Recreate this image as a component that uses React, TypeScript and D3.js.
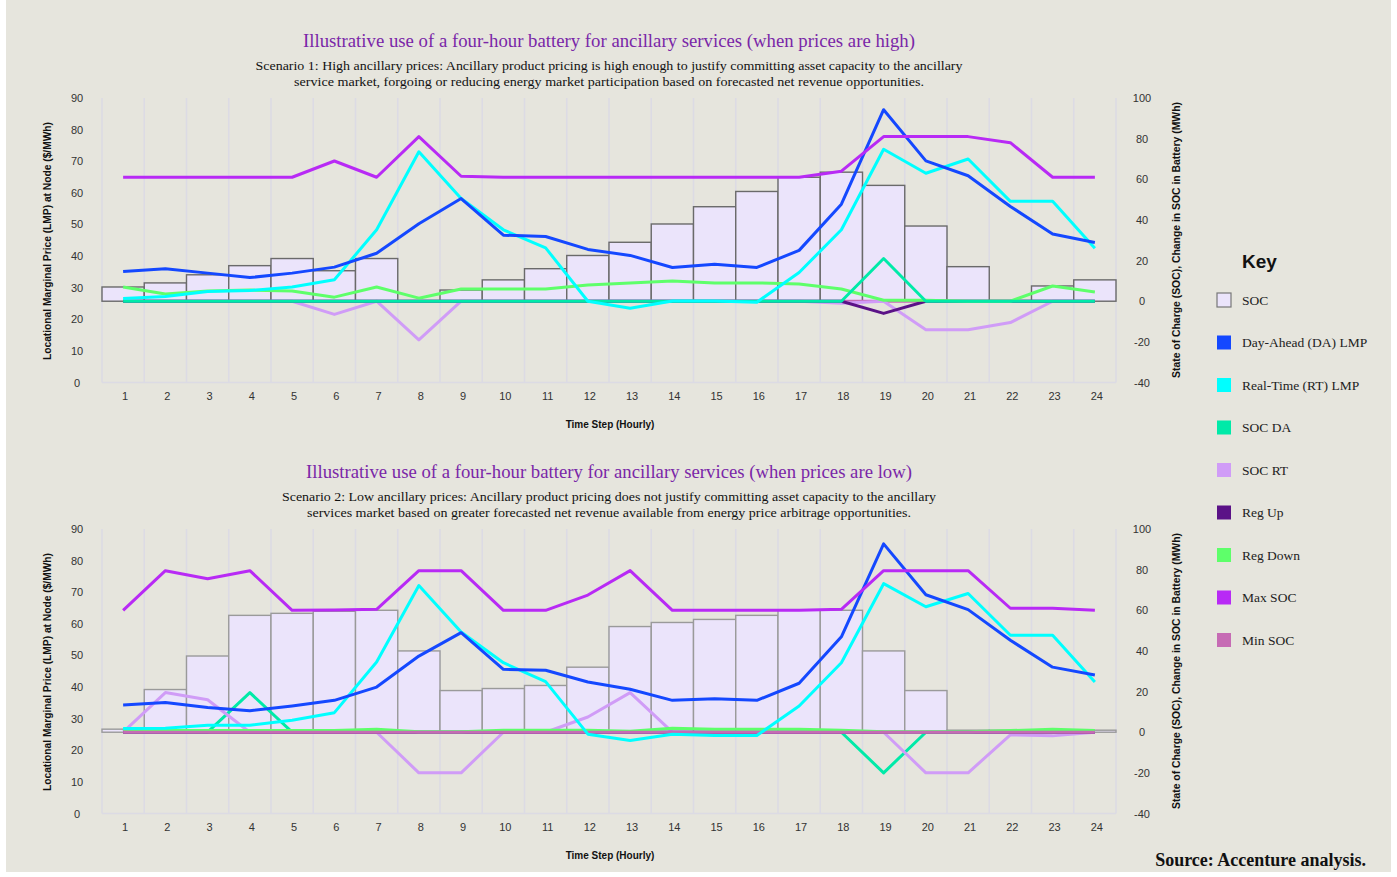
import React from "react";
import * as d3 from "d3";

const hours = d3.range(1, 25);
const lmpTicks = [0, 10, 20, 30, 40, 50, 60, 70, 80, 90];
const socTicks = [-40, -20, 0, 20, 40, 60, 80, 100];

// Scenario 1 (high ancillary prices)
const s1Soc = [7, 9, 13, 17.5, 21, 15, 21, 0, 5.5, 10.5, 16, 22.5, 29, 38, 46.5, 54, 61, 63.5, 57, 37, 17, 0, 7.5, 10.5];
const s1DA = [35.1, 36.0, 34.6, 33.2, 34.6, 36.5, 40.9, 50.2, 58.2, 46.6, 46.2, 42.1, 40.2, 36.4, 37.4, 36.4, 41.8, 56.4, 86.3, 70.1, 65.4, 55.7, 47.0, 44.3];
const s1RT = [26.6, 27.2, 28.8, 29.1, 30.2, 32.5, 48.3, 73.0, 58.2, 48.3, 42.6, 25.7, 23.5, 25.8, 25.8, 25.4, 34.8, 48.3, 73.8, 66.2, 70.7, 57.3, 57.3, 42.5];
const s1SocDA = [0, 0, 0, 0, 0, 0, 0, 0, 0, 0, 0, 0, 0, 0, 0, 0, 0, 0, 21, 0, 0, 0, 0, 0];
const s1SocRT = [0, 0, 0, 0, 0, -6.5, 0, -19, 0, 0, 0, 0, 0, 0, 0, 0, 0, -1, 0, -14, -14, -10.5, 0, 0];
const s1RegUp = [0, 0, 0, 0, 0, 0, 0, 0, 0, 0, 0, 0, 0, 0, 0, 0, 0, 0, -6, 0, 0, 0, 0, 0];
const s1RegDown = [7, 3.5, 5, 5.5, 5, 2, 7, 1.5, 6, 6, 6, 8, 9, 10, 9, 9, 8.5, 6, 0.5, 0.5, 0, 0, 7.5, 4.5];
const s1MaxSoc = [61, 61, 61, 61, 61, 69, 61, 81, 61.5, 61, 61, 61, 61, 61, 61, 61, 61, 64, 81, 81, 81, 78, 61, 61];
const s1MinSoc = [0, 0, 0, 0, 0, 0, 0, 0, 0, 0, 0, 0, 0, 0, 0, 0, 0, 0, 0, 0, 0, 0, 0, 0];

// Scenario 2 (low ancillary prices)
const s2Soc = [1.5, 21, 37.5, 57.5, 58.5, 59.5, 60, 40, 20.5, 21.5, 23, 32, 52, 54, 55.5, 57.5, 60, 60, 40, 20.5, 1, 1, 1, 1];
const s2DA = [34.3, 35.1, 33.5, 32.5, 34.0, 35.8, 40.0, 49.8, 57.2, 45.6, 45.3, 41.6, 39.3, 35.8, 36.3, 35.8, 41.2, 55.9, 85.3, 69.2, 64.5, 54.8, 46.3, 43.8];
const s2RT = [26.9, 27.0, 27.9, 27.9, 29.5, 31.9, 47.9, 72.1, 57.4, 47.7, 41.7, 25.1, 23.1, 25.1, 24.7, 24.7, 34.0, 47.7, 72.7, 65.4, 69.6, 56.4, 56.4, 41.6];
const s2SocDA = [0, 0, 0, 19.5, 0, 0, 0, 0, 0, 0, 0, 0, 0, 0, 0, 0, 0, 0, -20, 0, 0, 0, 0, 0];
const s2SocRT = [0, 19.5, 16, 0, 0, 0, 0, -20, -20, 0, 0, 7.5, 19.5, 0, 0, 0, 0, 0, 0, -20, -20, -1.3, -1.8, 0];
const s2RegUp = [0, 0, 0, 0, 0, 0, 0, 0, 0, 0, 0, 0, 0, 0, 0, 0, 0, 0, 0, 0, 0, 0, 0, 0];
const s2RegDown = [1.5, 0.8, 0.8, 0.8, 0.8, 0.8, 1.5, 0.2, 0.2, 1, 1, 1, 0.5, 2, 1.5, 1.5, 1.5, 1, 0.2, 0.2, 0.2, 0.8, 1.5, 0.8];
const s2MaxSoc = [60, 79.5, 75.5, 79.5, 60, 60.2, 60.5, 79.5, 79.5, 60, 60, 67.5, 79.5, 60, 60, 60, 60, 60.5, 79.5, 79.5, 79.5, 61, 61, 60];
const s2MinSoc = [0, 0, 0, 0, 0, 0, 0, 0, 0, 0, 0, 0, 0, 0, 0, 0, 0, 0, 0, 0, 0, 0, 0, 0];

const legendItems = [
  { label: "SOC", color: "#ebe4fb", stroke: "#777" },
  { label: "Day-Ahead (DA) LMP", color: "#1448ff" },
  { label: "Real-Time (RT) LMP", color: "#00ffff" },
  { label: "SOC DA", color: "#00eaa8" },
  { label: "SOC RT", color: "#d09cf7" },
  { label: "Reg Up", color: "#5b1287" },
  { label: "Reg Down", color: "#5eff6a" },
  { label: "Max SOC", color: "#b82af5" },
  { label: "Min SOC", color: "#c66bb4" },
];
const C = {
  da: "#1448ff", rt: "#00ffff", socDA: "#00eaa8", socRT: "#d09cf7",
  regUp: "#5b1287", regDown: "#5eff6a", maxSoc: "#b82af5", minSoc: "#c66bb4",
};

const SANS = "'Liberation Sans', Arial, sans-serif";
const SERIF = "'Liberation Serif', 'Times New Roman', serif";

type Series = { values: number[]; color: string; axis: "lmp" | "soc" };

function Panel(props: {
  dy: number; title: string; titleLen: number; sub1: string; sub1Len: number; sub2: string; sub2Len: number;
  soc: number[]; barStroke: string; series: Series[];
}) {
  const { dy } = props;
  const top = 98 + dy, bottom = 382.5 + dy;
  const x = d3.scaleBand<number>().domain(hours).range([102, 1116]).padding(0);
  const yL = d3.scaleLinear().domain([0, 90]).range([bottom, top]);
  const yR = d3.scaleLinear().domain([-40, 100]).range([bottom, top]);
  const cx = (h: number) => (x(h) as number) + x.bandwidth() / 2;
  return (
    <g>
      <text x={609} y={47 + dy} textAnchor="middle" fontFamily={SERIF} fontSize={19} fill="#7a27a8"
        textLength={props.titleLen} lengthAdjust="spacingAndGlyphs">{props.title}</text>
      <text x={609} y={70 + dy} textAnchor="middle" fontFamily={SERIF} fontSize={13} fill="#111"
        textLength={props.sub1Len} lengthAdjust="spacingAndGlyphs">{props.sub1}</text>
      <text x={609} y={86 + dy} textAnchor="middle" fontFamily={SERIF} fontSize={13} fill="#111"
        textLength={props.sub2Len} lengthAdjust="spacingAndGlyphs">{props.sub2}</text>
      {/* grid */}
      {hours.concat([25]).map((h, i) => {
        const gx = 102 + i * x.bandwidth();
        return <line key={"g" + i} x1={gx} x2={gx} y1={top} y2={bottom} stroke="#dcdbe4" strokeWidth={1.6} />;
      })}
      <line x1={102} x2={1116} y1={bottom} y2={bottom} stroke="#dcdbe4" strokeWidth={1.6} />
      {/* ticks */}
      {lmpTicks.map((t) => (
        <text key={"l" + t} x={77} y={yL(t) + 4} textAnchor="middle" fontFamily={SANS} fontSize={11} fill="#333">{t}</text>
      ))}
      {socTicks.map((t) => (
        <text key={"r" + t} x={1142} y={yR(t) + 4} textAnchor="middle" fontFamily={SANS} fontSize={11} fill="#333">{t}</text>
      ))}
      {hours.map((h) => (
        <text key={"x" + h} x={cx(h) + 2} y={400 + dy} textAnchor="middle" fontFamily={SANS} fontSize={11} fill="#333">{h}</text>
      ))}
      <text x={610} y={428 + dy} textAnchor="middle" fontFamily={SANS} fontSize={10} fontWeight="bold" fill="#111">Time Step (Hourly)</text>
      <text transform={`translate(51,${241 + dy}) rotate(-90)`} textAnchor="middle" fontFamily={SANS} fontSize={10.4} fontWeight="bold" fill="#111"
        textLength={238} lengthAdjust="spacingAndGlyphs">
        Locational Marginal Price (LMP) at Node ($/MWh)
      </text>
      <text transform={`translate(1180,${240 + dy}) rotate(-90)`} textAnchor="middle" fontFamily={SANS} fontSize={10.4} fontWeight="bold" fill="#111"
        textLength={276} lengthAdjust="spacingAndGlyphs">
        State of Charge (SOC), Change in SOC in Battery (MWh)
      </text>
      {/* bars */}
      {props.soc.map((v, i) => {
        const h = hours[i];
        const y0 = yR(0), y1 = yR(v);
        if (v <= 0) return null;
        return <rect key={"b" + i} x={x(h)} y={Math.min(y0, y1)} width={x.bandwidth()} height={Math.abs(y0 - y1)}
          fill="#ebe4fb" stroke={props.barStroke} strokeWidth={1.4} />;
      })}
      {/* lines */}
      {props.series.map((s, i) => {
        const sc = s.axis === "lmp" ? yL : yR;
        const gen = d3.line<number>().x((_, j) => cx(hours[j])).y((v) => sc(v));
        return <path key={"s" + i} d={gen(s.values) || ""} fill="none" stroke={s.color} strokeWidth={3} strokeLinejoin="round" />;
      })}
    </g>
  );
}

export default function App() {
  const s1Series: Series[] = [
    { values: s1MinSoc, color: C.minSoc, axis: "soc" },
    { values: s1SocRT, color: C.socRT, axis: "soc" },
    { values: s1RegUp, color: C.regUp, axis: "soc" },
    { values: s1RegDown, color: C.regDown, axis: "soc" },
    { values: s1SocDA, color: C.socDA, axis: "soc" },
    { values: s1RT, color: C.rt, axis: "lmp" },
    { values: s1DA, color: C.da, axis: "lmp" },
    { values: s1MaxSoc, color: C.maxSoc, axis: "soc" },
  ];
  const s2Series: Series[] = [
    { values: s2SocDA, color: C.socDA, axis: "soc" },
    { values: s2SocRT, color: C.socRT, axis: "soc" },
    { values: s2RegUp, color: C.regUp, axis: "soc" },
    { values: s2RegDown, color: C.regDown, axis: "soc" },
    { values: s2MinSoc, color: C.minSoc, axis: "soc" },
    { values: s2RT, color: C.rt, axis: "lmp" },
    { values: s2DA, color: C.da, axis: "lmp" },
    { values: s2MaxSoc, color: C.maxSoc, axis: "soc" },
  ];
  return (
    <svg width={1397} height={877} style={{ position: "fixed", left: 0, top: 0, display: "block" }}>
      <rect x={0} y={0} width={1397} height={877} fill="#ffffff" />
      <rect x={6} y={0} width={1385} height={872} fill="#e6e5dd" />
      <Panel dy={0}
        title="Illustrative use of a four-hour battery for ancillary services (when prices are high)" titleLen={612}
        sub1="Scenario 1: High ancillary prices: Ancillary product pricing is high enough to justify committing asset capacity to the ancillary" sub1Len={707}
        sub2="service market, forgoing or reducing energy market participation based on forecasted net revenue opportunities." sub2Len={630}
        soc={s1Soc} barStroke="#6a6a6a" series={s1Series} />
      <Panel dy={431}
        title="Illustrative use of a four-hour battery for ancillary services (when prices are low)" titleLen={606}
        sub1="Scenario 2: Low ancillary prices: Ancillary product pricing does not justify committing asset capacity to the ancillary" sub1Len={654}
        sub2="services market based on greater forecasted net revenue available from energy price arbitrage opportunities." sub2Len={604}
        soc={s2Soc} barStroke="#9a9a9a" series={s2Series} />
      {/* legend */}
      <text x={1242} y={268} fontFamily={SANS} fontSize={19} fontWeight="bold" fill="#111">Key</text>
      {legendItems.map((it, i) => {
        const cy = 300 + i * 42.5;
        return (
          <g key={it.label}>
            <rect x={1217} y={cy - 7} width={14} height={14} fill={it.color} stroke={it.stroke || "none"} strokeWidth={it.stroke ? 1.2 : 0} />
            <text x={1242} y={cy + 4.5} fontFamily={SERIF} fontSize={13.5} fill="#222">{it.label}</text>
          </g>
        );
      })}
      <text x={1366} y={866} textAnchor="end" fontFamily={SERIF} fontSize={18} fontWeight="bold" fill="#111">Source: Accenture analysis.</text>
    </svg>
  );
}
